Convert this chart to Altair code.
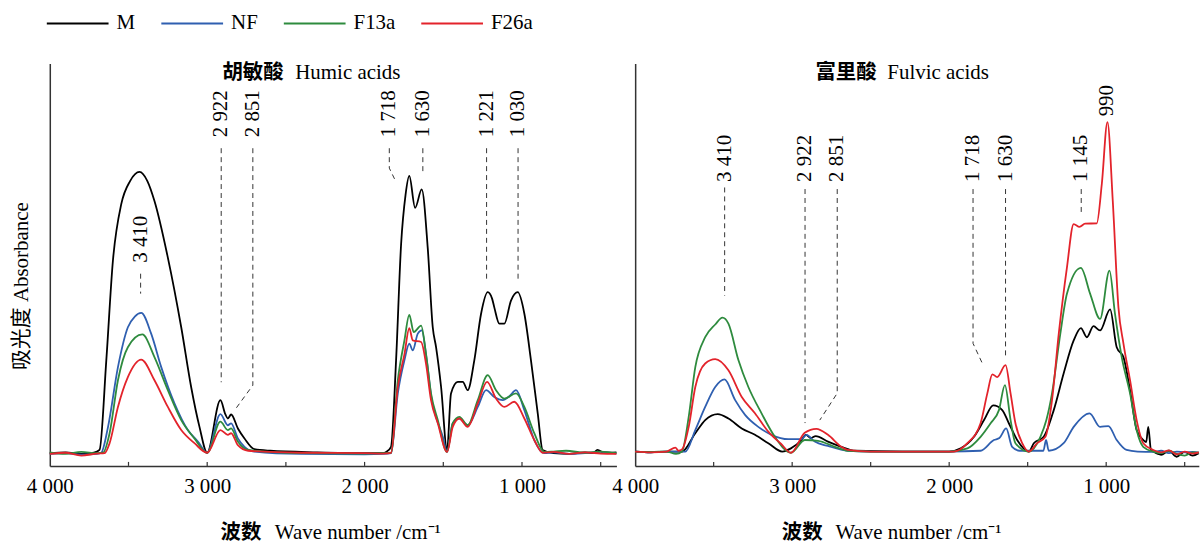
import altair as alt
import pandas as pd

SERIF = "Liberation Serif, Noto Sans CJK SC"
CJK = "Noto Sans CJK SC"
FS = 21

NAMES = ["M", "NF", "F13a", "F26a"]
COLORS = ["#000000", "#2f5fb0", "#2e8b3e", "#e3232b"]
TICKS = [4000, 3500, 3000, 2500, 2000, 1500, 1000, 500]
INNER_TICKS = [3500, 3000, 2500, 2000, 1500, 1000, 500]

# ---------------- Humic acids (left) ----------------
HA_M_W = [4000, 3900, 3800, 3720, 3684, 3641, 3599, 3546, 3490, 3430, 3380, 3335, 3250, 3165, 3102, 3049, 3000,
          2916, 2885, 2869, 2848, 2805, 2763, 2700, 2600, 2300, 2000, 1880, 1863, 1832, 1800, 1768, 1740, 1716,
          1679, 1637, 1599, 1567, 1546, 1514, 1476, 1451, 1408, 1376, 1345, 1303, 1260, 1218, 1190, 1176, 1144,
          1112, 1070, 1027, 985, 943, 900, 869, 800, 700, 600, 550, 520, 480, 400]
HA_M_A = [3.2, 3.4, 3.0, 3.3, 4.0, 26.5, 51.5, 65.7, 71.5, 73.8, 71.5, 66.5, 52.3, 34.8, 19.8, 9.8, 3.3,
          16.5, 13.0, 11.9, 12.9, 9.4, 6.9, 4.2, 3.8, 3.4, 3.2, 3.2, 3.5, 4.8, 26.5, 55.7, 68.0, 72.8,
          64.8, 69.4, 54.8, 34.8, 29.8, 19.8, 4.0, 18.2, 21.1, 21.1, 19.0, 26.5, 38.2, 43.6, 42.0, 39.8, 35.7,
          35.7, 41.5, 43.6, 38.2, 26.5, 13.2, 4.0, 3.2, 3.0, 3.4, 3.2, 4.0, 3.3, 3.4]

HA_NF_W = [4000, 3900, 3800, 3700, 3673, 3630, 3567, 3504, 3460, 3419, 3356, 3292, 3208, 3123, 3059, 3000,
           2916, 2869, 2848, 2805, 2763, 2700, 2400, 2000, 1880, 1832, 1789, 1747, 1716, 1694, 1662, 1637,
           1605, 1573, 1546, 1503, 1476, 1440, 1398, 1345, 1281, 1228, 1176, 1122, 1080, 1038, 985, 922, 859,
           800, 700, 600, 500, 400]
HA_NF_A = [3.0, 3.2, 2.8, 3.0, 3.3, 9.8, 24.8, 34.8, 37.5, 38.4, 33.2, 24.8, 15.7, 9.0, 6.1, 3.3,
           13.0, 10.2, 10.7, 6.9, 4.8, 3.6, 3.0, 2.9, 3.0, 3.2, 18.2, 26.5, 30.7, 29.0, 33.2, 34.0,
           26.5, 16.5, 12.3, 7.3, 3.5, 10.7, 11.9, 10.2, 14.8, 19.0, 17.3, 16.5, 17.5, 19.0, 14.0, 6.5, 3.2,
           3.4, 3.0, 3.2, 3.5, 3.1]

HA_F13_W = [4000, 3900, 3800, 3700, 3662, 3620, 3567, 3504, 3412, 3335, 3250, 3165, 3081, 3000, 2916, 2869,
            2848, 2805, 2740, 2400, 2000, 1880, 1832, 1789, 1747, 1716, 1688, 1641, 1610, 1578, 1535, 1476,
            1440, 1398, 1345, 1281, 1218, 1165, 1112, 1038, 985, 922, 858, 800, 720, 600, 500, 400]
HA_F13_A = [3.4, 3.0, 3.5, 3.2, 3.3, 8.2, 21.5, 29.8, 33.0, 27.3, 19.0, 11.5, 6.9, 3.3, 11.1, 9.0,
            9.4, 6.1, 4.0, 3.2, 3.1, 3.2, 3.3, 21.5, 31.5, 37.9, 33.6, 35.2, 28.2, 18.2, 11.5, 3.5,
            10.7, 12.3, 10.2, 16.5, 22.8, 19.0, 16.9, 18.2, 14.8, 8.2, 3.5, 3.6, 3.8, 3.3, 3.6, 3.2]

HA_F26_W = [4000, 3900, 3800, 3700, 3652, 3620, 3567, 3504, 3419, 3335, 3250, 3165, 3081, 3000, 2916, 2869,
            2848, 2805, 2740, 2400, 2000, 1880, 1832, 1789, 1747, 1716, 1694, 1641, 1610, 1578, 1535, 1476,
            1440, 1398, 1345, 1281, 1222, 1165, 1112, 1049, 985, 922, 869, 800, 700, 600, 500, 400]
HA_F26_A = [3.0, 3.3, 2.6, 3.1, 3.2, 5.7, 14.8, 22.3, 26.7, 21.5, 14.8, 9.0, 5.7, 3.3, 9.0, 7.8,
            8.2, 5.2, 3.8, 3.3, 3.2, 3.1, 3.3, 19.8, 28.0, 34.6, 31.5, 31.1, 25.7, 16.5, 10.7, 3.5,
            9.8, 11.9, 9.8, 15.7, 21.1, 16.9, 14.8, 16.1, 11.9, 6.5, 3.3, 3.5, 3.0, 3.4, 3.1, 3.0]

HA_LABELS = ["3 410", "2 922", "2 851", "1 718", "1 630", "1 221", "1 030"]
HA_LABEL_W = [3423, 2911, 2710, 1843, 1630, 1225, 1025]
HA_LABEL_A = [51.0, 82.5, 82.5, 82.5, 82.5, 82.5, 82.5]

HA_LEAD_ID = [1, 1, 2, 2, 3, 3, 3, 4, 4, 4, 5, 5, 6, 6, 7, 7]
HA_LEAD_W = [3423, 3423, 2911, 2911, 2710, 2710, 2816, 1843, 1843, 1800, 1630, 1630, 1225, 1225, 1025, 1025]
HA_LEAD_A = [48.25, 43.25, 79.75, 21.0, 79.75, 20.25, 14.5, 79.75, 74.75, 71.25, 79.75, 74.0, 79.75, 47.0,
             79.75, 47.0]

# ---------------- Fulvic acids (right) ----------------
FA_M_W = [4000, 3900, 3800, 3702, 3617, 3554, 3474, 3406, 3321, 3237, 3152, 3063, 3008, 2941, 2913, 2881, 2850,
          2772, 2687, 2600, 2300, 2000, 1926, 1842, 1778, 1719, 1662, 1620, 1567, 1493, 1461, 1398, 1334, 1271,
          1207, 1161, 1123, 1081, 1039, 975, 933, 890, 848, 806, 764, 745, 732, 715, 700, 650, 600, 552, 500,
          450, 410]
FA_M_A = [3.6, 3.4, 3.6, 3.6, 8.2, 11.5, 13.0, 11.9, 9.4, 7.8, 5.7, 3.6, 4.4, 6.5, 7.8, 7.0, 7.5,
          6.1, 4.8, 3.8, 3.6, 3.6, 4.4, 7.3, 11.5, 15.2, 14.0, 10.7, 6.5, 3.6, 5.7, 7.3, 14.0, 23.2,
          31.5, 34.6, 32.3, 35.1, 34.0, 39.3, 29.8, 27.3, 19.0, 9.0, 6.5, 6.0, 9.8, 4.0, 3.6, 2.8, 3.8, 2.3, 3.5,
          2.6, 3.2]

FA_NF_W = [4000, 3900, 3800, 3680, 3617, 3554, 3490, 3431, 3363, 3300, 3216, 3131, 3025, 2941, 2909, 2856,
           2772, 2645, 2500, 2000, 1800, 1715, 1680, 1637, 1599, 1550, 1400, 1383, 1366, 1271, 1207, 1106,
           1039, 986, 933, 870, 800, 700, 650, 600, 550, 500, 450, 410]
FA_NF_A = [3.6, 3.4, 3.6, 3.6, 9.0, 14.8, 19.8, 21.7, 16.5, 12.8, 9.8, 7.8, 6.7, 6.7, 7.8, 6.1,
           5.0, 3.8, 3.6, 3.6, 3.8, 6.5, 7.0, 9.4, 4.8, 3.8, 3.8, 6.5, 3.8, 5.7, 9.8, 13.2,
           9.8, 10.0, 6.5, 4.0, 3.6, 3.5, 3.8, 3.2, 3.6, 3.4, 3.5, 3.3]

FA_F13_W = [4000, 3900, 3800, 3740, 3702, 3659, 3617, 3554, 3490, 3444, 3406, 3342, 3279, 3195, 3110, 3008,
            2920, 2835, 2729, 2645, 2500, 2000, 1884, 1800, 1736, 1683, 1645, 1609, 1578, 1493, 1419, 1381,
            1345, 1292, 1250, 1161, 1102, 1039, 979, 944, 901, 848, 806, 764, 700, 650, 600, 550, 500, 450, 410]
FA_F13_A = [3.6, 3.5, 3.6, 3.0, 3.6, 12.3, 24.8, 32.3, 35.5, 37.2, 35.7, 26.5, 19.8, 13.2, 7.3, 3.3,
            6.5, 6.3, 4.8, 3.8, 3.6, 3.6, 4.4, 7.3, 10.7, 14.0, 20.3, 11.5, 5.7, 3.6, 7.3, 11.5,
            18.2, 33.2, 43.2, 49.7, 43.2, 36.9, 49.0, 38.2, 27.3, 18.2, 9.0, 4.8, 3.6, 3.2, 3.8, 3.0, 2.6, 3.4, 3.3]

FA_F26_W = [4000, 3900, 3800, 3744, 3723, 3700, 3659, 3617, 3554, 3490, 3406, 3321, 3237, 3152, 3070, 3008,
            2920, 2846, 2772, 2687, 2645, 2500, 2000, 1968, 1884, 1800, 1757, 1725, 1694, 1641, 1609, 1578,
            1535, 1493, 1440, 1387, 1345, 1302, 1250, 1207, 1170, 1134, 1060, 1028, 992, 958, 922, 890, 848,
            806, 764, 700, 650, 600, 550, 500, 450, 410]
FA_F26_A = [3.6, 3.4, 3.6, 4.6, 3.8, 4.2, 9.8, 19.8, 25.7, 26.8, 24.0, 17.3, 13.2, 8.6, 5.5, 3.3,
            8.3, 9.3, 7.8, 4.8, 4.0, 3.6, 3.6, 3.6, 5.7, 10.7, 18.2, 23.0, 22.3, 25.3, 18.2, 10.7,
            5.7, 3.6, 5.7, 7.3, 16.5, 33.2, 49.8, 60.7, 60.0, 60.8, 60.9, 70.7, 86.3, 66.5, 39.8, 30.7, 21.5,
            11.5, 5.7, 4.0, 3.4, 3.9, 2.9, 3.6, 3.1, 3.4]

FA_LABELS = ["3 410", "2 922", "2 851", "1 718", "1 630", "1 145", "990"]
FA_LABEL_W = [3430, 2918, 2713, 1848, 1641, 1159, 994]
FA_LABEL_A = [71.3, 71.3, 71.3, 71.3, 71.3, 71.3, 87.75]

FA_LEAD_ID = [1, 1, 2, 2, 3, 3, 3, 4, 4, 4, 5, 5, 6, 6]
FA_LEAD_W = [3430, 3430, 2918, 2918, 2713, 2713, 2824, 1848, 1848, 1789, 1641, 1641, 1159, 1159]
FA_LEAD_A = [69.9, 42.75, 69.5, 10.75, 69.5, 18.25, 11.5, 69.5, 30.75, 25.75, 69.5, 27.75, 69.5, 63.5]

PLOT_H = 404
Y_MAX = 101


def series_frame(groups):
    rows = []
    for name, ws, vs in groups:
        assert len(ws) == len(vs), name
        for w, v in zip(ws, vs):
            rows.append({"series": name, "w": w, "v": v})
    return pd.DataFrame(rows)


def panel(width, xmin, groups, labels, lab_w, lab_a, lead_id, lead_w, lead_a,
          t_cjk, t_en, t_cjk_x, t_en_x, xt_cjk_x, xt_en_x, y_title):
    xs = alt.Scale(domain=[4000, xmin], nice=False, zero=False)
    ys = alt.Scale(domain=[0, Y_MAX], nice=False, zero=False)
    x_axis = alt.Axis(values=TICKS,
                      labelExpr="datum.value % 1000 == 0 ? replace(format(datum.value, ','), ',', ' ') : ''",
                      ticks=False, grid=False, domainColor="#333333", domainWidth=1.5,
                      labelFont=SERIF, labelFontSize=FS, labelColor="black", labelPadding=10,
                      labelFlush=False, labelOverlap=False, title=None)
    if y_title:
        y_axis = alt.Axis(labels=False, ticks=False, grid=False, domainColor="#333333", domainWidth=1.5,
                          title=y_title, titleFont=SERIF, titleFontSize=FS, titleFontWeight="normal",
                          titleColor="black", titleAngle=270, titleBaseline="middle", titleAlign="center",
                          titleX=-28.5, titleY=223)
    else:
        y_axis = alt.Axis(labels=False, ticks=False, grid=False, domainColor="#333333", domainWidth=1.5,
                          title=None)
    legend = alt.Legend(orient="none", legendX=-4, legendY=-72.3, direction="horizontal",
                        symbolType="stroke", symbolSize=3844, symbolStrokeWidth=2,
                        labelFont=SERIF, labelFontSize=FS, labelColor="black", labelOffset=7,
                        columnPadding=22, padding=0, title=None)

    X = alt.X("w:Q", scale=xs, axis=x_axis)
    Y = alt.Y("v:Q", scale=ys, axis=y_axis)

    df = series_frame(groups)
    lines = alt.Chart(df).mark_line(strokeWidth=1.8, interpolate="monotone").encode(
        x=X, y=Y,
        color=alt.Color("series:N", scale=alt.Scale(domain=NAMES, range=COLORS), legend=legend),
        order=alt.Order("w:Q", sort="descending"),
    )

    lead_df = pd.DataFrame({"id": lead_id, "w": lead_w, "v": lead_a, "k": list(range(len(lead_id)))})
    leads = alt.Chart(lead_df).mark_line(strokeDash=[5, 4], strokeWidth=1, color="#333333").encode(
        x=X, y=Y, detail="id:N", order="k:Q",
    )

    lab_df = pd.DataFrame({"t": labels, "w": lab_w, "v": lab_a})
    labs = alt.Chart(lab_df).mark_text(angle=270, align="left", baseline="middle", font=SERIF,
                                       fontSize=FS, color="black").encode(
        x=X, y=Y, text="t:N",
    )

    tick_df = pd.DataFrame({"w": INNER_TICKS})
    ticks = alt.Chart(tick_df).mark_rule(color="#333333", strokeWidth=1.2).encode(
        x=X,
        y=alt.value(PLOT_H - 4),
        y2=alt.value(PLOT_H),
    )

    def txt(s, x, y, align, bold):
        return alt.Chart(pd.DataFrame({"t": [s]})).mark_text(
            align=align, baseline="middle", font=CJK if bold else SERIF,
            fontSize=20.5 if bold else FS,
            fontWeight="bold" if bold else "normal", color="black").encode(
            text="t:N", x=alt.value(x), y=alt.value(y))

    titles = [
        txt(t_cjk, t_cjk_x, 9, "right", True),
        txt(t_en, t_en_x, 9, "left", False),
        txt("波数", xt_cjk_x, 471, "right", True),
        txt("Wave number /cm⁻¹", xt_en_x, 471, "left", False),
    ]

    return alt.layer(lines, leads, labs, ticks, *titles).properties(width=width, height=PLOT_H)


left = panel(569, 400,
             [("M", HA_M_W, HA_M_A), ("NF", HA_NF_W, HA_NF_A), ("F13a", HA_F13_W, HA_F13_A),
              ("F26a", HA_F26_W, HA_F26_A)],
             HA_LABELS, HA_LABEL_W, HA_LABEL_A, HA_LEAD_ID, HA_LEAD_W, HA_LEAD_A,
             "胡敏酸", "Humic acids", 234.8, 246.5, 212.5, 226.0, "吸光度  Absorbance")

right = panel(566, 410,
              [("M", FA_M_W, FA_M_A), ("NF", FA_NF_W, FA_NF_A), ("F13a", FA_F13_W, FA_F13_A),
               ("F26a", FA_F26_W, FA_F26_A)],
              FA_LABELS, FA_LABEL_W, FA_LABEL_A, FA_LEAD_ID, FA_LEAD_W, FA_LEAD_A,
              "富里酸", "Fulvic acids", 242.5, 253.2, 188.2, 201.2, None)

chart = alt.hconcat(left, right, spacing=18.8, bounds="flush").properties(
    padding={"left": 10, "top": -10.3, "right": 0, "bottom": 4}
).configure_view(strokeWidth=0)

chart.save("out.html", embed_options={"renderer": "svg", "actions": False})
